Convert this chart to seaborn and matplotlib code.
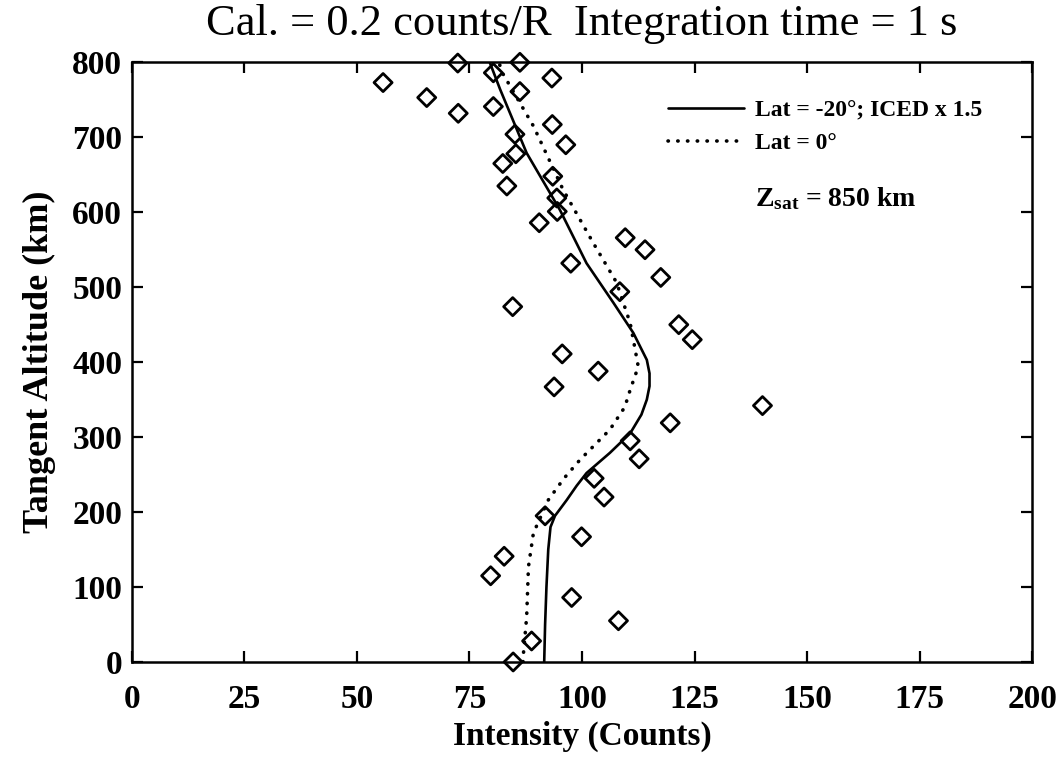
import numpy as np
import pandas as pd
import matplotlib
matplotlib.use("Agg")
import matplotlib.pyplot as plt
import seaborn as sns

# ---------------- data ----------------
# measured points (Intensity counts, Tangent altitude km)
obs_intensity = [72.4, 80.3, 86.2, 55.8, 93.3, 65.5, 86.2, 72.5, 80.3, 93.4,
                 85.1, 96.4, 85.3, 82.4, 83.3, 93.5, 94.4, 94.5, 90.5, 109.6,
                 114.0, 97.5, 117.5, 108.4, 84.6, 121.5, 124.5, 95.6, 103.6, 93.8,
                 140.1, 119.6, 110.7, 112.7, 102.7, 104.9, 91.8, 99.9, 82.7, 79.7,
                 97.7, 108.1, 88.8, 84.7]
obs_altitude = [799, 786, 800, 773, 779, 753, 761, 732, 741, 717,
                704, 690, 678, 665, 635, 648, 619, 601, 586, 566,
                550, 532, 513, 494, 474, 450, 430, 411, 388, 367,
                342, 319, 295, 271, 245, 220, 195, 167, 141, 115,
                86, 55, 28, 0]

# model: Lat = -20 deg; ICED x 1.5
m20_altitude = [0, 50, 100, 150, 180, 195, 216, 235, 252, 279, 305, 330, 350,
                368, 385, 403, 421, 439, 479, 532, 603, 679, 764, 800]
m20_intensity = [91.6, 91.8, 92.1, 92.5, 93.0, 94.0, 96.6, 98.8, 101.0, 106.2,
                 110.7, 113.2, 114.4, 115.0, 115.0, 114.4, 112.9, 111.4, 107.0,
                 101.0, 95.1, 87.7, 81.8, 79.5]

# model: Lat = 0 deg
m0_altitude = [0, 12, 60, 127, 172, 216, 245, 270, 310, 340, 363, 394, 430,
               452, 506, 559, 630, 715, 784, 800]
m0_intensity = [86.9, 87.0, 87.7, 88.1, 89.2, 92.5, 96.0, 99.6, 106.2, 109.5,
                110.7, 112.5, 111.4, 110.7, 107.7, 102.5, 95.8, 89.2, 82.5, 81.5]

x_ticks = [0, 25, 50, 75, 100, 125, 150, 175, 200]
y_ticks = [0, 100, 200, 300, 400, 500, 600, 700, 800]

title = "Cal. = 0.2 counts/R  Integration time = 1 s"
label_m20 = "Lat = -20°; ICED x 1.5"
label_m0 = "Lat = 0°"

# ---------------- style ----------------
sns.set_theme(style="ticks")
plt.rcParams["font.family"] = ["Liberation Serif", "DejaVu Serif"]
plt.rcParams["mathtext.fontset"] = "custom"
plt.rcParams["mathtext.rm"] = "Liberation Serif"
plt.rcParams["mathtext.bf"] = "Liberation Serif:bold"
plt.rcParams["mathtext.it"] = "Liberation Serif:italic"
for key in ["text.color", "axes.labelcolor", "xtick.color", "ytick.color",
            "axes.edgecolor"]:
    plt.rcParams[key] = "black"

fig = plt.figure(figsize=(10.64, 7.6), dpi=100)
ax = fig.add_axes([0.124, 0.129, 0.846, 0.789])

df20 = pd.DataFrame({"x": m20_intensity, "y": m20_altitude})
df0 = pd.DataFrame({"x": m0_intensity, "y": m0_altitude})
dobs = pd.DataFrame({"x": obs_intensity, "y": obs_altitude})

sns.lineplot(data=df20, x="x", y="y", sort=False, estimator=None, ax=ax,
             color="black", linewidth=1.9, label=label_m20)
sns.lineplot(data=df0, x="x", y="y", sort=False, estimator=None, ax=ax,
             color="black", linewidth=2.6, linestyle=(0, (0.1, 2.6)),
             dash_capstyle="round", label=label_m0)
sns.scatterplot(data=dobs, x="x", y="y", ax=ax, marker="D", s=85,
                facecolor="none", edgecolor="black", linewidth=2.0,
                clip_on=False, zorder=5)

ax.set_xlim(0, 200)
ax.set_ylim(0, 800)
ax.set_xticks(x_ticks)
ax.set_yticks(y_ticks)
ax.set_xticklabels([str(v) for v in x_ticks])
ax.set_yticklabels([str(v) for v in y_ticks])
ax.tick_params(direction="in", length=8, width=1.6, top=True, right=True,
               labelsize=24, colors="black")
ax.tick_params(axis="x", pad=16)
ax.tick_params(axis="y", pad=7)
for lab in ax.get_xticklabels() + ax.get_yticklabels():
    lab.set_fontweight("bold")
for sp in ax.spines.values():
    sp.set_linewidth(1.8)
    sp.set_color("black")

ax.set_xlabel("Intensity (Counts)", fontsize=24, fontweight="bold", labelpad=4,
              color="black")
ax.set_ylabel("Tangent Altitude (km)", fontsize=26, fontweight="bold",
              labelpad=12, color="black")
ax.set_title(title, fontsize=32, pad=20, color="black")

leg = ax.legend(loc="upper left", bbox_to_anchor=(0.596, 0.937), frameon=False,
                fontsize=17, handlelength=3.2, handletextpad=0.45,
                labelspacing=0.45, borderpad=0, borderaxespad=0)
for t in leg.get_texts():
    t.set_fontweight("bold")
    t.set_color("black")

ax.text(0.692, 0.772, r"Z$_{\mathbf{sat}}$ = 850 km", transform=ax.transAxes,
        fontsize=20, fontweight="bold", va="center", ha="left", color="black")

fig.savefig("out.png", dpi=100)
